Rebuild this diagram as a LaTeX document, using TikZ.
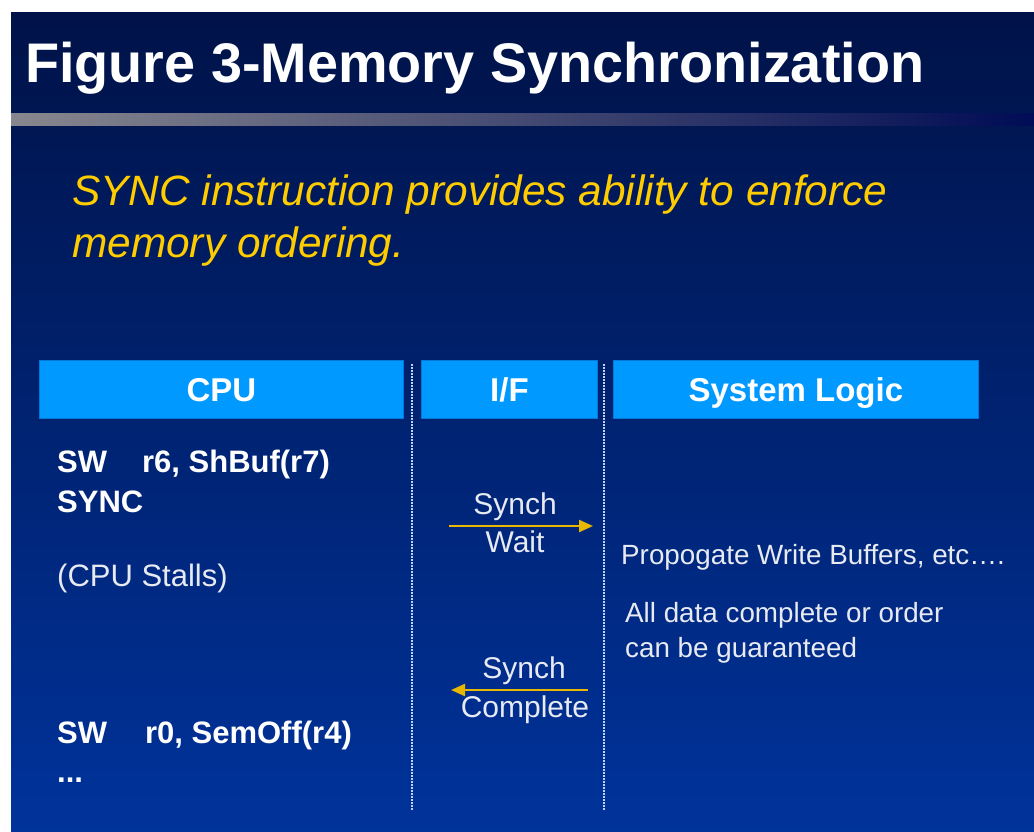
\documentclass[tikz,border=0pt]{standalone}
\usepackage{fontspec}
\setmainfont{Liberation Sans}
\usetikzlibrary{arrows.meta}
\definecolor{navytop}{RGB}{0,18,72}
\definecolor{navymid}{RGB}{0,32,115}
\definecolor{navybot}{RGB}{0,51,155}
\definecolor{hdrblue}{RGB}{0,153,255}
\definecolor{hdredge}{RGB}{0,120,215}
\definecolor{subgold}{RGB}{255,204,0}
\definecolor{arrowgold}{RGB}{232,184,0}
\definecolor{dotblue}{RGB}{190,210,250}
\definecolor{bargray}{RGB}{135,135,142}
\definecolor{barmid}{RGB}{95,90,125}
\definecolor{barend}{RGB}{0,12,85}
\definecolor{lighttext}{RGB}{232,234,242}
\begin{document}
\begin{tikzpicture}[x=1pt,y=-1pt,
  hdr/.style={draw=hdredge, fill=hdrblue, line width=0.8pt, text=white,
    inner sep=0pt, anchor=north west, minimum height=58pt,
    text height=23.6pt, text depth=0pt,
    font=\fontsize{33}{40}\selectfont\bfseries},
  txt/.style={inner sep=0pt, anchor=base west},
  code/.style={txt, text=white, font=\fontsize{31}{36}\selectfont\bfseries},
  plain/.style={txt, text=lighttext, font=\fontsize{31}{36}\selectfont},
  msg/.style={inner sep=0pt, anchor=base, text=lighttext, font=\fontsize{30}{36}\selectfont},
  logic/.style={txt, text=lighttext, font=\fontsize{27.8}{32}\selectfont},
  sub/.style={txt, text=subgold, font=\fontsize{42.4}{50}\selectfont\itshape},
  divider/.style={dotblue, line width=2pt, dash pattern=on 1.5pt off 1.5pt},
  goldarrow/.style={arrowgold, line width=2.2pt, -{Triangle[length=14pt,width=12pt]}}
]
% canvas
\fill[white] (0,0) rectangle (1034,831);
\shade[top color=navytop, middle color=navymid, bottom color=navybot] (11,12) rectangle (1034,831);
\shade[left color=bargray, middle color=barmid, right color=barend] (11,113) rectangle (1034,125);

% title and subtitle
\node[txt, text=white, font=\fontsize{55.8}{62}\selectfont\bfseries] (title) at (25,82) {Figure 3-Memory Synchronization};
\node[sub] (sub1) at (72,205) {SYNC instruction provides ability to enforce};
\node[sub] (sub2) at (72,257) {memory ordering.};

% column headers
\node[hdr, minimum width=364pt] (cpuhdr) at (39,360) {CPU};
\node[hdr, minimum width=176pt] (ifhdr) at (421,360) {I/F};
\node[hdr, minimum width=365pt] (syshdr) at (613,360) {System Logic};

% dotted dividers
\coordinate (d1t) at (412,364);
\coordinate (d1b) at (412,811);
\coordinate (d2t) at (604,364);
\coordinate (d2b) at (604,811);
\draw[divider] (d1t) -- (d1b);
\draw[divider] (d2t) -- (d2b);

% CPU column
\node[code] (sw1) at (57,472) {SW\hspace{35pt}r6, ShBuf(r7)};
\node[code] (sync) at (57,512) {SYNC};
\node[plain] (stall) at (57,586) {(CPU Stalls)};
\node[code] (sw2) at (57,743) {SW\hspace{38pt}r0, SemOff(r4)};
\node[code] (dots) at (57,782) {...};

% I/F column
\node[msg] (synch1) at (515,514) {Synch};
\node[msg] (wait) at (515,552) {Wait};
\node[msg] (synch2) at (524,678) {Synch};
\node[msg] (complete) at (525,717) {Complete};
\coordinate (w1) at (449,526);
\coordinate (w2) at (593,526);
\coordinate (c1) at (588,690);
\coordinate (c2) at (451,690);
\draw[goldarrow] (w1) -- (w2);
\draw[goldarrow] (c1) -- (c2);

% System logic column
\node[logic] (prop) at (621,564) {Propogate Write Buffers, etc….};
\node[logic] (all1) at (625,622) {All data complete or order};
\node[logic] (all2) at (625,657) {can be guaranteed};
\end{tikzpicture}
\end{document}
